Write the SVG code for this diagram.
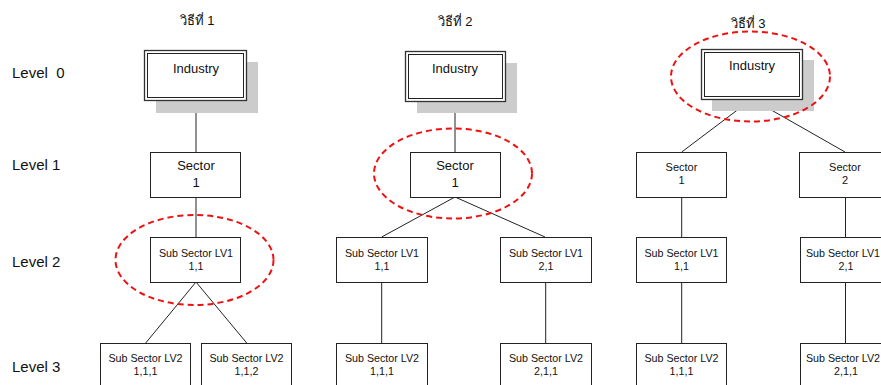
<svg xmlns="http://www.w3.org/2000/svg" width="881" height="385" viewBox="0 0 881 385">
<style>
text{font-family:"Liberation Sans",Arial,"Noto Sans",sans-serif;fill:#111;text-anchor:middle}
.lvl{font-size:15px;text-anchor:start;white-space:pre}
.ttl{font-size:13px}
.ind{font-size:13px}
.sec{font-size:13px}
.sec3{font-size:11px}
.sub{font-size:10.7px}
.box{fill:#fff;stroke:#222;stroke-width:1}
.shadow{fill:#cccccc}
.outer{fill:#fff;stroke:#333;stroke-width:1.3}
.inner{fill:none;stroke:#222;stroke-width:1}
.ell{fill:none;stroke:#ee1111;stroke-width:2;stroke-dasharray:6 4}
#connectors line{stroke:#222;stroke-width:1}
</style>
<rect width="881" height="385" fill="#fff"/>
<g id="labels">
<text class="lvl" x="12" y="78" xml:space="preserve">Level  0</text>
<text class="lvl" x="12" y="170">Level 1</text>
<text class="lvl" x="12" y="267">Level 2</text>
<text class="lvl" x="12" y="372">Level 3</text>
<text class="ttl" x="197" y="25">วิธีที่ 1</text>
<text class="ttl" x="455" y="26">วิธีที่ 2</text>
<text class="ttl" x="748" y="28">วิธีที่ 3</text>
</g>
<g id="connectors">
<line x1="196" y1="101" x2="196" y2="152"/>
<line x1="196" y1="197" x2="196" y2="237"/>
<line x1="196" y1="282" x2="145.7" y2="343"/>
<line x1="196" y1="282" x2="246.7" y2="343"/>
<line x1="455" y1="101" x2="455" y2="152"/>
<line x1="455" y1="197" x2="381.7" y2="237"/>
<line x1="455" y1="197" x2="545" y2="237"/>
<line x1="381.7" y1="282" x2="381.7" y2="343"/>
<line x1="545.7" y1="282" x2="545.7" y2="343"/>
<line x1="752" y1="99" x2="681.7" y2="152"/>
<line x1="752" y1="99" x2="845" y2="152"/>
<line x1="681.7" y1="197" x2="681.7" y2="237"/>
<line x1="845.5" y1="197" x2="845.5" y2="237"/>
<line x1="681.7" y1="282" x2="681.7" y2="343"/>
<line x1="845.5" y1="282" x2="845.5" y2="343"/>
</g>
<g id="ind1">
<rect class="shadow" x="156" y="62" width="102" height="51"/>
<rect class="outer" x="144.5" y="50.5" width="102" height="50"/>
<rect class="inner" x="147.5" y="53.5" width="96" height="44"/>
<text class="ind" x="196" y="72.7">Industry</text>
</g>
<g id="sec1">
<rect class="box" x="150.5" y="152.5" width="90" height="45"/>
<text class="sec" x="196" y="170">Sector</text>
<text class="sec" x="196" y="186.7">1</text>
</g>
<g id="sub1">
<rect class="box" x="150.5" y="237.5" width="90" height="45"/>
<text class="sub" x="196" y="256.7">Sub Sector LV1</text>
<text class="sub" x="196" y="269.5">1,1</text>
</g>
<g id="lv2a">
<rect class="box" x="100.5" y="343.5" width="90" height="50"/>
<text class="sub" x="145.5" y="361.7">Sub Sector LV2</text>
<text class="sub" x="145.5" y="375">1,1,1</text>
</g>
<g id="lv2b">
<rect class="box" x="201.5" y="343.5" width="90" height="50"/>
<text class="sub" x="246.5" y="361.7">Sub Sector LV2</text>
<text class="sub" x="246.5" y="375">1,1,2</text>
</g>
<g id="ind2">
<rect class="shadow" x="417" y="63" width="100" height="50"/>
<rect class="outer" x="405.5" y="51.5" width="100" height="50"/>
<rect class="inner" x="408.5" y="54.5" width="94" height="44"/>
<text class="ind" x="455" y="73">Industry</text>
</g>
<g id="sec2">
<rect class="box" x="410.5" y="152.5" width="90" height="45"/>
<text class="sec" x="455" y="170">Sector</text>
<text class="sec" x="455" y="186.7">1</text>
</g>
<g id="sub2a">
<rect class="box" x="336.5" y="237.5" width="91" height="45"/>
<text class="sub" x="382" y="257">Sub Sector LV1</text>
<text class="sub" x="382" y="269.5">1,1</text>
</g>
<g id="sub2b">
<rect class="box" x="500.5" y="237.5" width="91" height="45"/>
<text class="sub" x="546" y="257">Sub Sector LV1</text>
<text class="sub" x="546" y="269.5">2,1</text>
</g>
<g id="lv2c">
<rect class="box" x="336.5" y="343.5" width="91" height="50"/>
<text class="sub" x="382" y="361.7">Sub Sector LV2</text>
<text class="sub" x="382" y="375">1,1,1</text>
</g>
<g id="lv2d">
<rect class="box" x="500.5" y="343.5" width="91" height="50"/>
<text class="sub" x="546" y="361.7">Sub Sector LV2</text>
<text class="sub" x="546" y="375">2,1,1</text>
</g>
<g id="ind3">
<rect class="shadow" x="712" y="60" width="102" height="51"/>
<rect class="outer" x="701.5" y="49.5" width="101" height="50"/>
<rect class="inner" x="704.5" y="52.5" width="95" height="44"/>
<text class="ind" x="752" y="69.5">Industry</text>
</g>
<g id="sec3a">
<rect class="box" x="636.5" y="152.5" width="90" height="45"/>
<text class="sec3" x="681.5" y="170.5">Sector</text>
<text class="sec3" x="681.5" y="184">1</text>
</g>
<g id="sec3b">
<rect class="box" x="799.5" y="152.5" width="91" height="45"/>
<text class="sec3" x="845" y="170.5">Sector</text>
<text class="sec3" x="845" y="184">2</text>
</g>
<g id="sub3a">
<rect class="box" x="636.5" y="237.5" width="90" height="45"/>
<text class="sub" x="681.5" y="257">Sub Sector LV1</text>
<text class="sub" x="681.5" y="269.5">1,1</text>
</g>
<g id="sub3b">
<rect class="box" x="800.5" y="237.5" width="91" height="45"/>
<text class="sub" x="843" y="257">Sub Sector LV1</text>
<text class="sub" x="846" y="269.5">2,1</text>
</g>
<g id="lv3a">
<rect class="box" x="636.5" y="343.5" width="90" height="50"/>
<text class="sub" x="681.5" y="361.7">Sub Sector LV2</text>
<text class="sub" x="681.5" y="375">1,1,1</text>
</g>
<g id="lv3b">
<rect class="box" x="800.5" y="343.5" width="91" height="50"/>
<text class="sub" x="843" y="361.7">Sub Sector LV2</text>
<text class="sub" x="846" y="375">2,1,1</text>
</g>
<g id="highlights">
<ellipse class="ell" cx="194.5" cy="260" rx="79" ry="45"/>
<ellipse class="ell" cx="453" cy="173.5" rx="79" ry="45"/>
<ellipse class="ell" cx="750.5" cy="76.5" rx="79.5" ry="45"/>
</g>
</svg>
